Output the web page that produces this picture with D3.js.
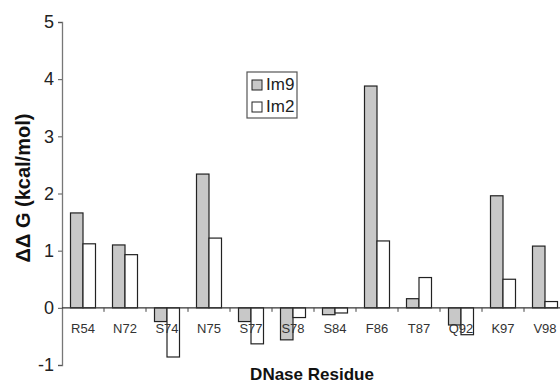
<!DOCTYPE html>
<html>
<head>
<meta charset="utf-8">
<script src="https://cdn.jsdelivr.net/npm/d3@7"></script>
<style>
  body { margin: 0; background: #fff; }
  svg { display: block; font-family: "Liberation Sans", Arial, sans-serif; }
</style>
</head>
<body>
<svg id="vis"></svg>
<script>
// data
const residues = ['R54', 'N72', 'S74', 'N75', 'S77', 'S78', 'S84', 'F86', 'T87', 'Q92', 'K97', 'V98']
const series = ['Im9', 'Im2']
const im9 = [1.66, 1.10, -0.24, 2.34, -0.24, -0.56, -0.12, 3.88, 0.16, -0.30, 1.96, 1.08]
const im2 = [1.12, 0.93, -0.86, 1.22, -0.63, -0.17, -0.09, 1.17, 0.53, -0.47, 0.50, 0.11]
const yTicks = [-1, 0, 1, 2, 3, 4, 5]

const W = 560, H = 385
const svg = d3.select('#vis').attr('width', W).attr('height', H)

// scales
const y = d3.scaleLinear().domain([-1, 5]).range([365, 22])
const x0 = d3.scaleBand().domain(residues).range([62, 62 + 12 * 42])
const x1 = d3.scaleBand().domain(series).range([0, x0.bandwidth()]).paddingOuter(0.68)
const fills = { Im9: '#c8c8c8', Im2: '#ffffff' }

// bars
const rows = residues.map((r, i) => ({ r, vals: [{ s: 'Im9', v: im9[i] }, { s: 'Im2', v: im2[i] }] }))
svg.append('g').selectAll('g')
    .data(rows)
    .join('g')
    .attr('transform', d => `translate(${x0(d.r)},0)`)
    .selectAll('rect')
    .data(d => d.vals)
    .join('rect')
    .attr('x', d => x1(d.s))
    .attr('y', d => y(Math.max(0, d.v)))
    .attr('width', x1.bandwidth())
    .attr('height', d => Math.abs(y(d.v) - y(0)))
    .attr('fill', d => fills[d.s])
    .attr('stroke', '#222')
    .attr('stroke-width', 1.2)

// y axis
const yAxis = svg.append('g')
    .attr('transform', 'translate(62,0)')
    .call(d3.axisLeft(y).tickValues(yTicks).tickSize(4).tickPadding(4).tickFormat(d => String(d)))
yAxis.select('.domain').attr('stroke', '#777').attr('stroke-width', 1.3)
yAxis.selectAll('.tick line').attr('stroke', '#555')
yAxis.selectAll('.tick text')
    .attr('font-size', 18)
    .attr('fill', '#222')
    .attr('font-family', '"Liberation Sans", Arial, sans-serif')

// x axis at zero
const xAxis = svg.append('g').attr('transform', `translate(0,${y(0)})`)
xAxis.append('line')
    .attr('x1', 62).attr('x2', W)
    .attr('stroke', '#333').attr('stroke-width', 1.3)
xAxis.selectAll('.tk')
    .data(residues)
    .join('line')
    .attr('x1', d => x0(d) + x0.bandwidth())
    .attr('x2', d => x0(d) + x0.bandwidth())
    .attr('y1', 0).attr('y2', 4)
    .attr('stroke', '#444')
xAxis.selectAll('text')
    .data(residues)
    .join('text')
    .attr('x', d => x0(d) + x0.bandwidth() / 2)
    .attr('y', 25)
    .attr('text-anchor', 'middle')
    .attr('font-size', 13)
    .attr('fill', '#333')
    .text(d => d)

// axis titles
svg.append('text')
    .attr('transform', 'translate(30,188) rotate(-90)')
    .attr('text-anchor', 'middle')
    .attr('font-size', 20)
    .attr('font-weight', 'bold')
    .attr('fill', '#111')
    .text('ΔΔ G (kcal/mol)')

svg.append('text')
    .attr('x', 312)
    .attr('y', 380)
    .attr('text-anchor', 'middle')
    .attr('font-size', 17)
    .attr('font-weight', 'bold')
    .attr('fill', '#111')
    .text('DNase Residue')

// legend
const lg = svg.append('g').attr('transform', 'translate(247,72)')
lg.append('rect')
    .attr('width', 50).attr('height', 46)
    .attr('fill', '#fff').attr('stroke', '#555').attr('stroke-width', 1.2)
series.forEach((s, i) => {
    lg.append('rect')
        .attr('x', 5).attr('y', 8 + i * 22)
        .attr('width', 10).attr('height', 10)
        .attr('fill', fills[s]).attr('stroke', '#222')
    lg.append('text')
        .attr('x', 19).attr('y', 18 + i * 22)
        .attr('font-size', 17)
        .attr('fill', '#222')
        .text(s)
})
</script>
</body>
</html>
